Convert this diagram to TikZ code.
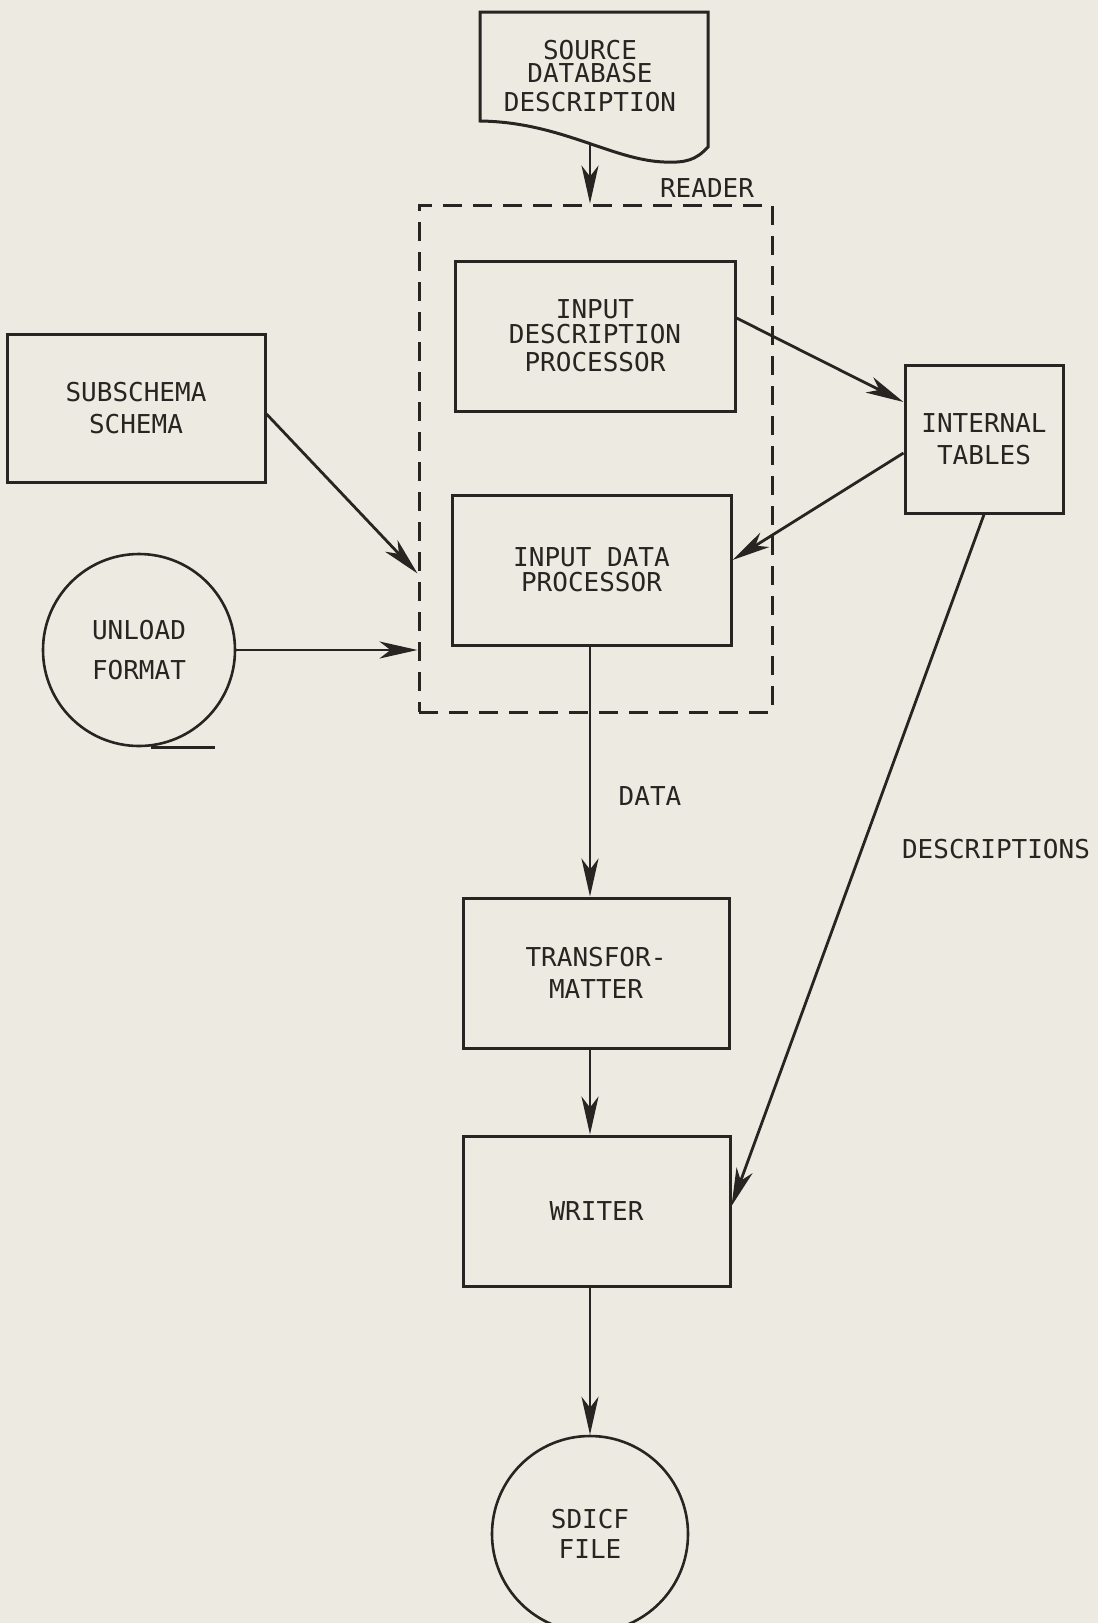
\documentclass[tikz,border=0pt]{standalone}
\usepackage{fontspec}
\setmonofont{DejaVu Sans Mono}
\usetikzlibrary{arrows.meta, positioning}
\definecolor{paper}{RGB}{237,235,225}
\definecolor{ink}{RGB}{40,36,34}

\begin{document}
\begin{tikzpicture}[
    x=1pt, y=-1pt,
    every node/.style={font=\ttfamily\fontsize{26}{28}\selectfont, text=ink},
    box/.style={rectangle, draw=ink, line width=3pt, align=center, inner sep=0pt},
    disk/.style={circle, draw=ink, line width=2.6pt, align=center, inner sep=0pt},
    arrow/.style={-{Stealth[length=38pt, width=17pt, inset=11pt]}, draw=ink, line width=2.8pt}
]

% --- Page ---
\fill[paper] (0,0) rectangle (1098,1623);
\useasboundingbox (0,0) rectangle (1098,1623);

% --- Source document ---
\draw[ink, line width=3pt] (480,121) -- (480,12) -- (708,12) -- (708,147)
    .. controls (696,160) and (686,163) .. (664,162)
    .. controls (612,160) and (560,122) .. cycle;
\node[align=center] (src) at (590,76) {SOURCE\\[-5pt]DATABASE\\[1pt]DESCRIPTION};
\coordinate (srcout) at (590,143);

% --- Reader ---
\node[draw=ink, line width=3pt, dash pattern=on 19pt off 11pt, inner sep=0pt,
      minimum width=353pt, minimum height=507pt] (reader) at (595.5,458.5) {};
\node[above left=2pt and 16pt of reader.north east] (readerlbl) {READER};

\node[box, minimum width=280pt, minimum height=150pt] (idp) at (595,336)
    {INPUT\\[-3pt]DESCRIPTION\\PROCESSOR};
\node[box, minimum width=279pt, minimum height=150pt] (dp) at (591.5,570)
    {INPUT DATA\\[-3pt]PROCESSOR};

% --- Inputs ---
\node[box, minimum width=258pt, minimum height=148pt] (sub) at (136,408)
    {SUBSCHEMA\\[4pt]SCHEMA};
\node[disk, minimum size=192pt] (unload) at (139,650) {UNLOAD\\[12pt]FORMAT};
\draw[ink, line width=2.6pt] ([xshift=12pt]unload.south) -- ++(64,0);

\node[box, minimum width=158pt, minimum height=148pt] (tables) at (984,439)
    {INTERNAL\\[4pt]TABLES};

% --- Output chain ---
\node[box, minimum width=266pt, minimum height=150pt] (trans) at (596,973)
    {TRANSFOR-\\[4pt]MATTER};
\node[box, minimum width=267pt, minimum height=150pt] (writer) at (596.5,1211) {WRITER};
\node[disk, minimum size=196pt] (sdicf) at (590,1534) {SDICF\\[2pt]FILE};

% --- Connections ---
\draw[arrow] (srcout) -- (srcout |- reader.north);
\draw[arrow] ([yshift=18pt]idp.east) -- ([yshift=37pt]tables.west);
\draw[arrow] ([yshift=-14pt]tables.west) -- ([yshift=10pt]dp.east);
\draw[arrow] ([yshift=-6pt]sub.east) -- ([yshift=-115pt]reader.west);
\draw[arrow] (unload.east) -- (unload -| reader.west);
\draw[arrow] (dp.south -| sdicf.north) -- node[pos=0.6, anchor=west, xshift=24pt] (datalbl) {DATA}
    (trans.north -| sdicf.north);
\draw[arrow] (trans.south -| sdicf.north) -- (writer.north -| sdicf.north);
\draw[arrow] (writer.south -| sdicf.north) -- (sdicf.north);
\draw[arrow] (tables.south) -- ([yshift=5pt]writer.east);
\node (desclbl) at (996,849) {DESCRIPTIONS};

\end{tikzpicture}
\end{document}
